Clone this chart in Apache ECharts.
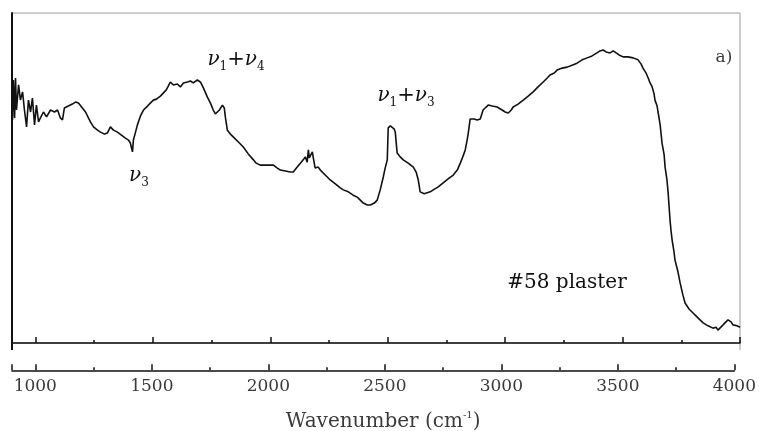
<!DOCTYPE html>
<html>
<head>
<meta charset="utf-8">
<script src="https://cdn.jsdelivr.net/npm/echarts@6/dist/echarts.min.js"></script>
<style>
  html, body { margin: 0; padding: 0; background: #fff; }
  #chart { width: 759px; height: 431px; }
</style>
</head>
<body>
<div id="chart"></div>
<script>
// Spectrum of sample #58 (plaster): wavenumber (cm-1) and relative signal
const wavenumbers = [
  902, 906, 911, 915, 919, 928, 936, 945, 953, 962, 970, 979, 987, 996,
  1004, 1013, 1021, 1034, 1047, 1064, 1081, 1094, 1106, 1115, 1123, 1140, 1157, 1170, 1183, 1191,
  1213, 1234, 1247, 1264, 1277, 1294, 1306, 1319, 1332, 1349, 1366, 1383, 1396, 1404, 1409, 1413,
  1417, 1426, 1434, 1447, 1460, 1477, 1489, 1502, 1515, 1532, 1545, 1557, 1566, 1574, 1587, 1604,
  1617, 1630, 1647, 1660, 1672, 1689, 1702, 1715, 1732, 1745, 1757, 1766, 1774, 1783, 1796, 1804,
  1809, 1817, 1830, 1843, 1864, 1885, 1906, 1928, 1940, 1957, 1979, 2000, 2013, 2030, 2043, 2064,
  2085, 2098, 2111, 2128, 2140, 2149, 2157, 2162, 2166, 2170, 2179, 2183, 2191, 2204, 2213, 2234,
  2255, 2277, 2298, 2311, 2332, 2353, 2370, 2383, 2396, 2413, 2426, 2443, 2455, 2468, 2481, 2489,
  2498, 2502, 2511, 2519, 2528, 2532, 2540, 2553, 2566, 2587, 2609, 2621, 2630, 2638, 2655, 2668,
  2681, 2694, 2715, 2736, 2757, 2779, 2796, 2809, 2821, 2830, 2838, 2843, 2847, 2851, 2868, 2881,
  2894, 2902, 2906, 2919, 2928, 2945, 2966, 2987, 3000, 3013, 3026, 3034, 3055, 3077, 3098, 3119,
  3140, 3162, 3179, 3191, 3209, 3221, 3243, 3264, 3285, 3306, 3328, 3349, 3370, 3391, 3404, 3417,
  3430, 3447, 3460, 3468, 3485, 3502, 3523, 3545, 3566, 3579, 3587, 3600, 3609, 3617, 3626, 3634,
  3638, 3647, 3651, 3660, 3668, 3677, 3681, 3689, 3694, 3702, 3706, 3711, 3719, 3723, 3736, 3745,
  3757, 3766, 3783, 3800, 3821, 3843, 3864, 3885, 3898, 3906, 3928, 3940, 3949, 3962, 3970, 3987,
  4000
];
const signal = [
  0.676, 0.797, 0.682, 0.803, 0.706, 0.782, 0.736, 0.761, 0.706, 0.655, 0.736, 0.700, 0.742, 0.661,
  0.721, 0.670, 0.682, 0.700, 0.685, 0.706, 0.700, 0.706, 0.682, 0.676, 0.712, 0.718, 0.724, 0.730, 0.727, 0.721,
  0.700, 0.670, 0.655, 0.645, 0.639, 0.633, 0.636, 0.655, 0.645, 0.639, 0.630, 0.621, 0.615, 0.606, 0.591, 0.579,
  0.615, 0.639, 0.661, 0.688, 0.706, 0.718, 0.727, 0.736, 0.739, 0.748, 0.758, 0.767, 0.779, 0.791, 0.782, 0.785,
  0.776, 0.788, 0.791, 0.794, 0.788, 0.797, 0.791, 0.773, 0.745, 0.727, 0.706, 0.694, 0.691, 0.706, 0.721, 0.712,
  0.682, 0.645, 0.633, 0.624, 0.609, 0.594, 0.573, 0.555, 0.545, 0.539, 0.539, 0.539, 0.539, 0.530, 0.524, 0.521,
  0.518, 0.518, 0.530, 0.545, 0.555, 0.564, 0.548, 0.585, 0.561, 0.555, 0.579, 0.561, 0.530, 0.533, 0.524, 0.509,
  0.494, 0.482, 0.470, 0.464, 0.458, 0.448, 0.442, 0.433, 0.424, 0.418, 0.418, 0.424, 0.433, 0.464, 0.503, 0.530,
  0.555, 0.652, 0.658, 0.655, 0.648, 0.639, 0.576, 0.564, 0.555, 0.545, 0.533, 0.518, 0.494, 0.458, 0.452, 0.455,
  0.458, 0.464, 0.473, 0.485, 0.497, 0.509, 0.524, 0.545, 0.567, 0.585, 0.615, 0.636, 0.658, 0.679, 0.679, 0.676,
  0.679, 0.697, 0.706, 0.715, 0.721, 0.718, 0.715, 0.706, 0.700, 0.697, 0.706, 0.715, 0.724, 0.736, 0.748, 0.761,
  0.776, 0.791, 0.803, 0.812, 0.818, 0.827, 0.833, 0.836, 0.842, 0.848, 0.858, 0.864, 0.870, 0.879, 0.885, 0.888,
  0.882, 0.879, 0.885, 0.882, 0.873, 0.867, 0.867, 0.864, 0.858, 0.845, 0.833, 0.818, 0.803, 0.788, 0.776, 0.755,
  0.736, 0.718, 0.700, 0.661, 0.606, 0.570, 0.533, 0.494, 0.455, 0.373, 0.342, 0.312, 0.276, 0.252, 0.215, 0.182,
  0.145, 0.121, 0.103, 0.091, 0.076, 0.061, 0.052, 0.045, 0.048, 0.039, 0.055, 0.064, 0.070, 0.064, 0.055, 0.052,
  0.048
];

// Axis ticks
const majorTicks = [1000, 1500, 2000, 2500, 3000, 3500, 4000];
const minorTicks = [1250, 1750, 2250, 2750, 3250, 3750];
const lowerAxisTicks = [900, 1000, 1500, 2000, 2500, 3000, 3500, 4000];
const axisTitle = 'Wavenumber (cm{sup|-1})';

// Annotations
const bandLabels = [
  { text: '{n|ν}{s|3}', pos: [139, 176] },
  { text: '{n|ν}{s|1}{p|+}{n|ν}{s|4}', pos: [236, 60] },
  { text: '{n|ν}{s|1}{p|+}{n|ν}{s|3}', pos: [406, 96] }
];
const panelTag = 'a)';
const sampleName = '#58 plaster';

const SERIF = "'DejaVu Serif', 'Liberation Serif', serif";
const INK = '#111';
const TEXT = '#3a3a3a';

const lineData = wavenumbers.map((w, i) => [w, signal[i]]);

const bandRich = {
  n: { fontFamily: SERIF, fontStyle: 'italic', fontSize: 20, lineHeight: 26, fill: INK, color: INK },
  s: { fontFamily: SERIF, fontSize: 12, lineHeight: 12, verticalAlign: 'bottom', fill: INK, color: INK },
  p: { fontFamily: SERIF, fontSize: 21, lineHeight: 26, fill: INK, color: INK }
};

const chart = echarts.init(document.getElementById('chart'), null, { renderer: 'canvas' });

const xRange = { min: 900, max: 4000 };

chart.setOption({
  animation: false,
  backgroundColor: '#fff',
  grid: [
    { left: 12, right: 19, top: 13, bottom: 88, show: true, borderColor: '#9a9a9a', borderWidth: 1, backgroundColor: 'transparent' },
    { left: 12, right: 19, top: 370, height: 1, show: false }
  ],
  xAxis: [
    {
      gridIndex: 0, type: 'value', ...xRange, position: 'bottom',
      axisLine: { show: true, lineStyle: { color: INK, width: 1.5 } },
      axisTick: { show: true, inside: true, length: 6, customValues: majorTicks, lineStyle: { color: INK, width: 1.5 } },
      axisLabel: { show: false },
      splitLine: { show: false }
    },
    {
      gridIndex: 0, type: 'value', ...xRange, position: 'bottom',
      axisLine: { show: false },
      axisTick: { show: true, inside: true, length: 3, customValues: minorTicks, lineStyle: { color: INK, width: 1.5 } },
      axisLabel: { show: false },
      splitLine: { show: false }
    },
    {
      gridIndex: 1, type: 'value', ...xRange, position: 'bottom',
      axisLine: { show: true, lineStyle: { color: INK, width: 1.5 } },
      axisTick: { show: true, inside: true, length: 6, customValues: lowerAxisTicks, lineStyle: { color: INK, width: 1.5 } },
      axisLabel: {
        show: true, customValues: majorTicks, margin: 8,
        formatter: v => String(v),
        fontFamily: SERIF, fontSize: 17, color: TEXT
      },
      splitLine: { show: false },
      name: axisTitle,
      nameLocation: 'middle',
      nameGap: 40,
      nameTextStyle: {
        fontFamily: SERIF, fontSize: 20, color: TEXT, lineHeight: 24,
        padding: [0, 0, 0, 20],
        rich: {
          sup: { fontFamily: SERIF, fontSize: 10, lineHeight: 10, verticalAlign: 'top', color: TEXT }
        }
      }
    },
    {
      gridIndex: 1, type: 'value', ...xRange, position: 'bottom',
      axisLine: { show: false },
      axisTick: { show: true, inside: true, length: 3, customValues: minorTicks, lineStyle: { color: INK, width: 1.5 } },
      axisLabel: { show: false },
      splitLine: { show: false }
    }
  ],
  yAxis: [
    {
      gridIndex: 0, type: 'value', min: 0, max: 1,
      axisLine: { show: true, lineStyle: { color: INK, width: 2 } },
      axisTick: { show: false }, axisLabel: { show: false }, splitLine: { show: false }
    },
    { gridIndex: 1, type: 'value', show: false, min: 0, max: 1 }
  ],
  series: [
    {
      type: 'line',
      xAxisIndex: 0, yAxisIndex: 0,
      data: lineData,
      showSymbol: false,
      symbol: 'none',
      smooth: false,
      lineStyle: { color: INK, width: 1.6 },
      silent: true
    }
  ],
  graphic: [
    // frame edges running a little past the lower axis
    { type: 'line', shape: { x1: 12, y1: 343, x2: 12, y2: 350 }, style: { stroke: INK, lineWidth: 2 } },
    { type: 'line', shape: { x1: 740, y1: 343, x2: 740, y2: 350 }, style: { stroke: '#9a9a9a', lineWidth: 1 } },
    ...bandLabels.map(b => ({
      type: 'text', x: b.pos[0], y: b.pos[1],
      style: { text: b.text, rich: bandRich, align: 'center', verticalAlign: 'middle', fill: INK }
    })),
    {
      type: 'text', x: 724, y: 58,
      style: { text: panelTag, font: "17px 'DejaVu Serif', serif", fill: TEXT, align: 'center', verticalAlign: 'middle' }
    },
    {
      type: 'text', x: 567, y: 283,
      style: { text: sampleName, font: "20px 'DejaVu Serif', serif", fill: INK, align: 'center', verticalAlign: 'middle' }
    }
  ]
});
</script>
</body>
</html>
